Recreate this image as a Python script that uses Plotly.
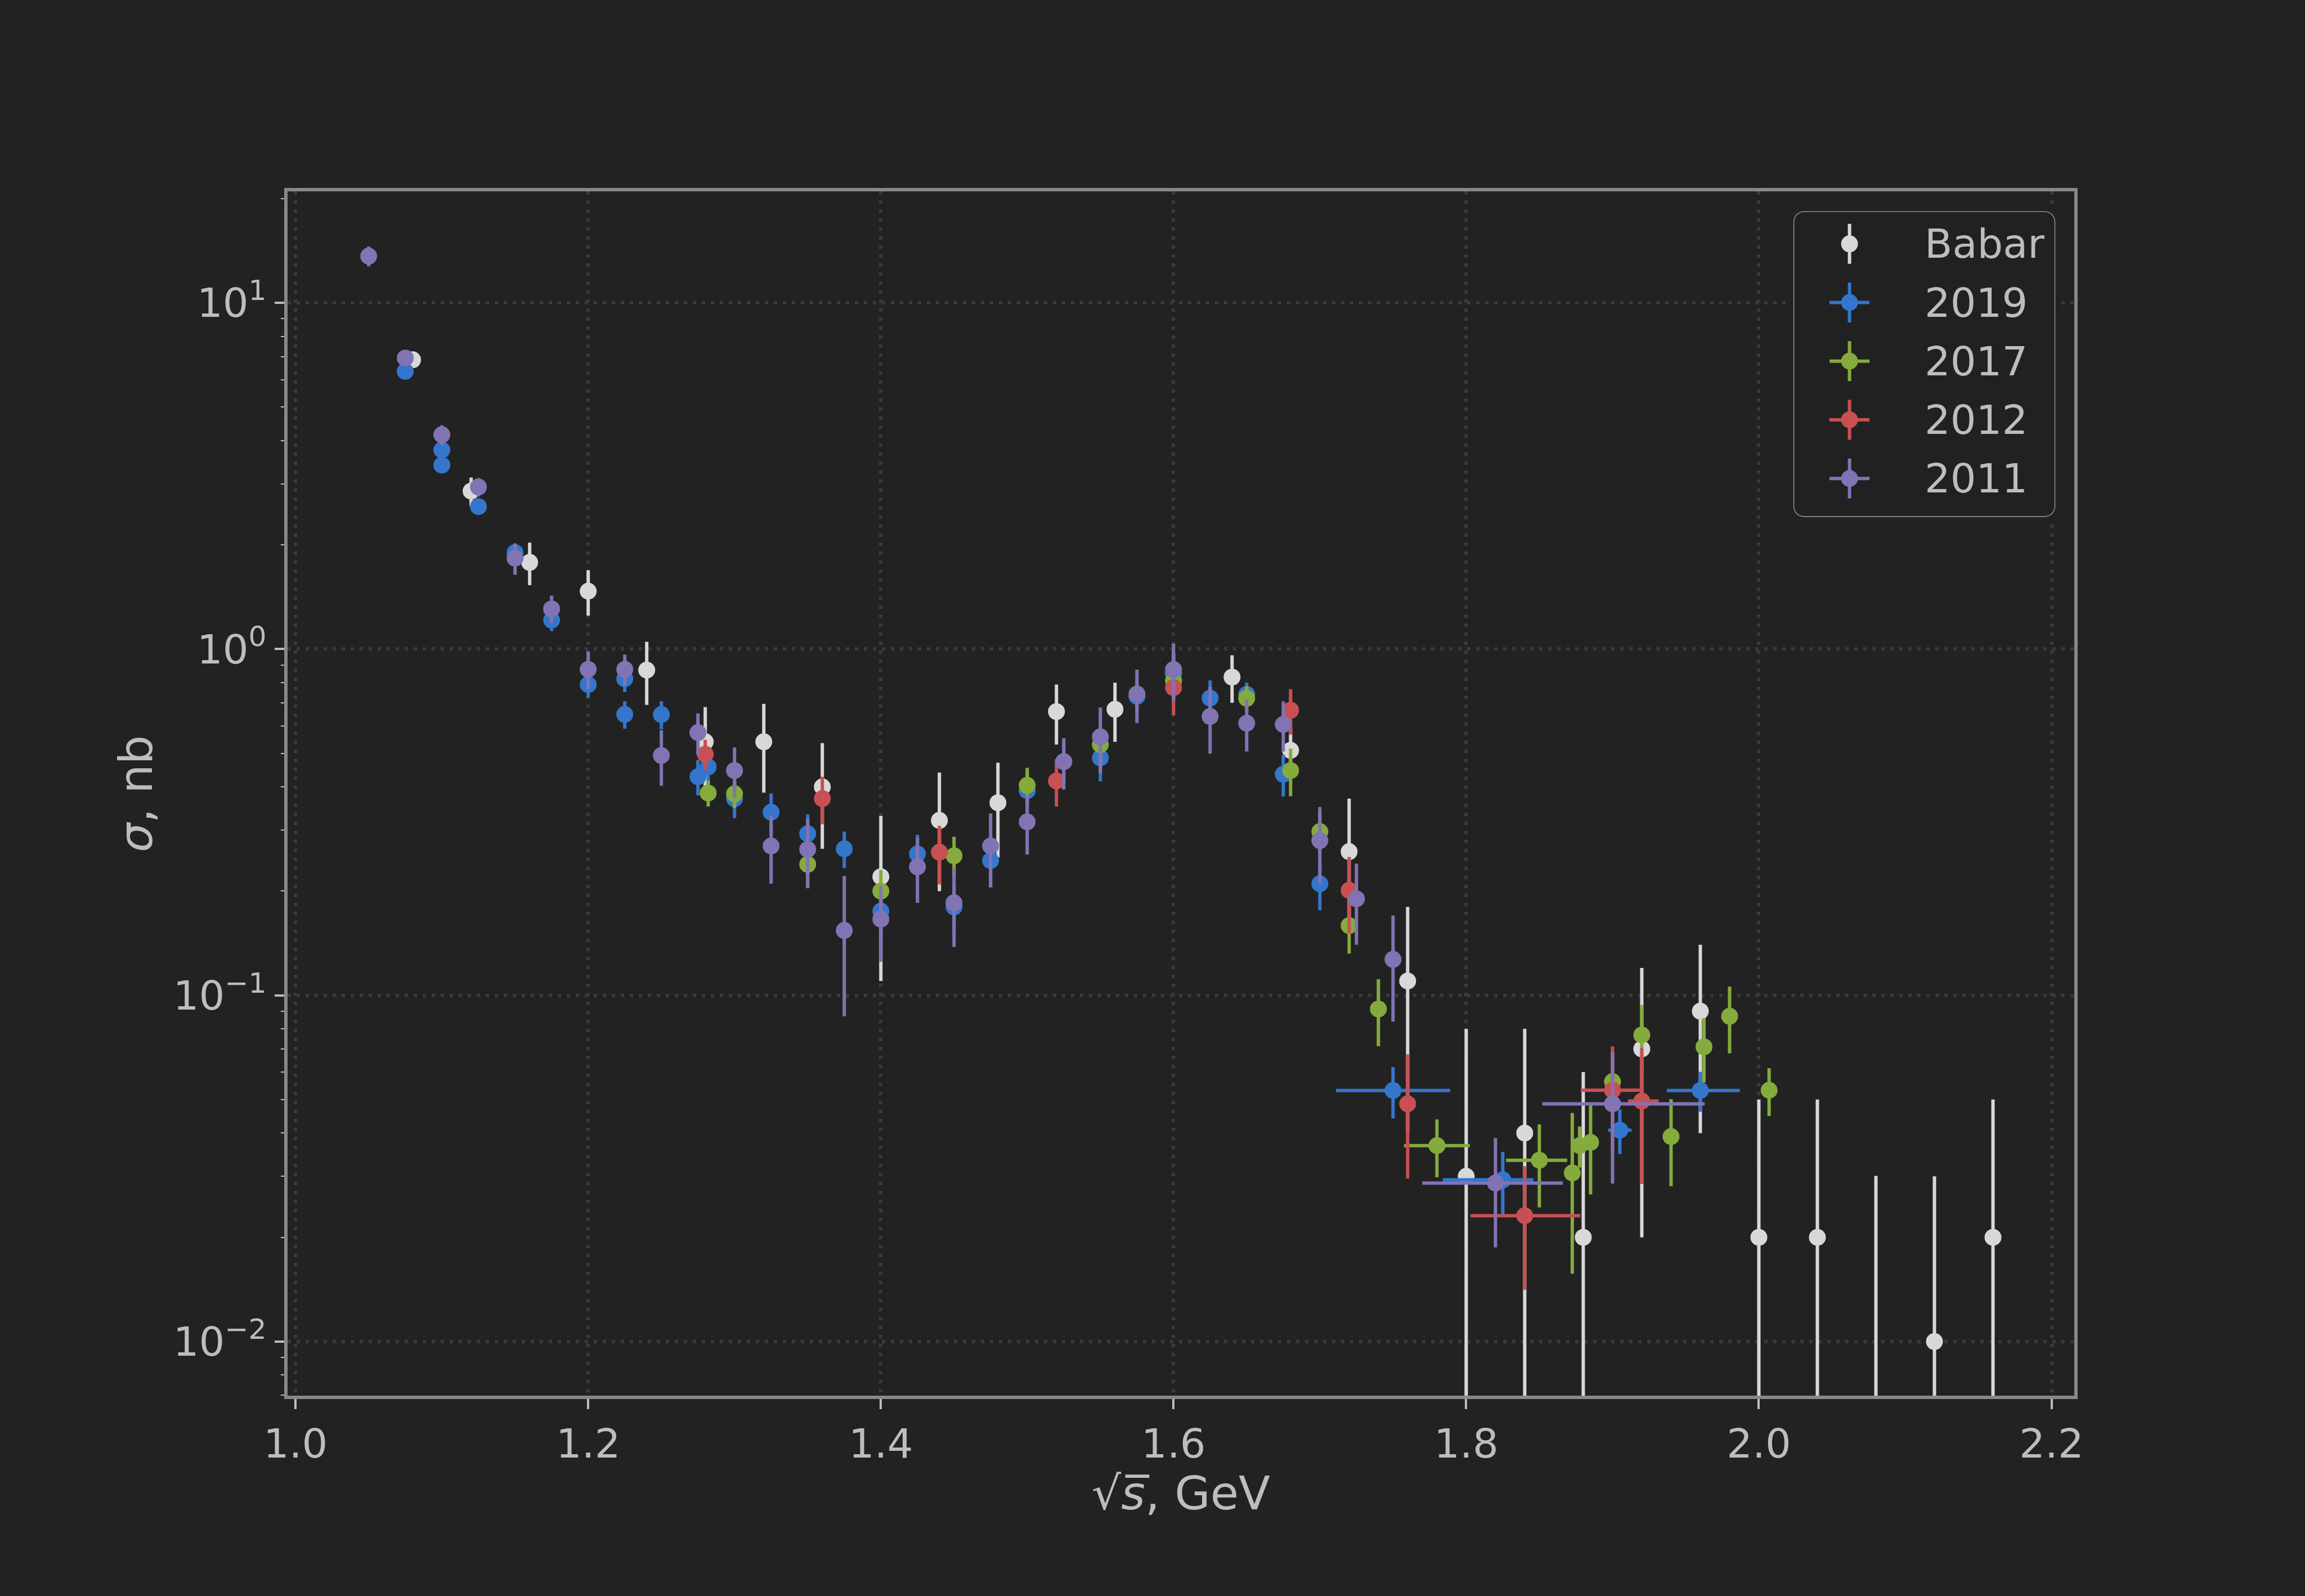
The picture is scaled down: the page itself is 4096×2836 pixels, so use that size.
import numpy as np
import plotly.graph_objects as go

# ---------------- data ----------------
babar_x = [1.08, 1.12, 1.16, 1.20, 1.24, 1.28, 1.32, 1.36, 1.40, 1.44, 1.48, 1.52, 1.56, 1.60,
           1.64, 1.68, 1.72, 1.76, 1.80, 1.84, 1.88, 1.92, 1.96, 2.00, 2.04, 2.08, 2.12, 2.16]
babar_y = [6.85, 2.86, 1.78, 1.47, 0.87, 0.54, 0.54, 0.40, 0.22, 0.32, 0.36, 0.66, 0.67, 0.85,
           0.83, 0.51, 0.26, 0.11, 0.03, 0.04, 0.02, 0.07, 0.09, 0.02, 0.02, 0.0, 0.01, 0.02]
babar_yerr = [0.25, 0.27, 0.25, 0.22, 0.18, 0.14, 0.155, 0.135, 0.11, 0.12, 0.11, 0.13, 0.13, 0.12,
              0.13, 0.08, 0.11, 0.07, 0.05, 0.04, 0.04, 0.05, 0.05, 0.03, 0.03, 0.03, 0.02, 0.03]

s2019_x = [1.075, 1.10, 1.10, 1.125, 1.15, 1.175, 1.20, 1.225, 1.225, 1.25, 1.275, 1.282, 1.30,
           1.325, 1.35, 1.375, 1.40, 1.425, 1.45, 1.475, 1.50, 1.525, 1.55, 1.575, 1.60, 1.625,
           1.65, 1.675, 1.70, 1.75, 1.825, 1.905, 1.96]
s2019_y = [6.34, 3.76, 3.40, 2.58, 1.90, 1.213, 0.790, 0.821, 0.648, 0.647, 0.428, 0.457, 0.370,
           0.338, 0.293, 0.265, 0.175, 0.256, 0.180, 0.245, 0.39, 0.473, 0.485, 0.73, 0.85, 0.722,
           0.74, 0.435, 0.210, 0.0531, 0.0293, 0.0408, 0.0531]
s2019_yerr = [0.2, 0.15, 0.15, 0.1, 0.1, 0.085, 0.066, 0.07, 0.059, 0.06, 0.05, 0.05, 0.045,
              0.045, 0.04, 0.032, 0.025, 0.035, 0.03, 0.04, 0.05, 0.06, 0.07, 0.08, 0.1, 0.09,
              0.06, 0.06, 0.034, 0.009, 0.006, 0.006, 0.007]
s2019_xerr_lo = [0] * 29 + [0.039, 0.041, 0.008, 0.023]
s2019_xerr_hi = [0] * 29 + [0.039, 0.021, 0.008, 0.027]

s2017_x = [1.282, 1.30, 1.35, 1.40, 1.45, 1.50, 1.55, 1.60, 1.65, 1.68, 1.70, 1.72, 1.74, 1.78,
           1.85, 1.8725, 1.8775, 1.885, 1.90, 1.92, 1.94, 1.9625, 1.98, 2.007]
s2017_y = [0.384, 0.382, 0.239, 0.200, 0.253, 0.404, 0.530, 0.81, 0.721, 0.446, 0.297, 0.159,
           0.0913, 0.0368, 0.0334, 0.0307, 0.0368, 0.0376, 0.0563, 0.0768, 0.0391, 0.071, 0.087,
           0.0532]
s2017_yerr = [0.033, 0.035, 0.035, 0.03, 0.034, 0.05, 0.06, 0.09, 0.06, 0.07, 0.04, 0.027, 0.02,
              0.007, 0.009, 0.015, 0.005, 0.011, 0.012, 0.017, 0.011, 0.015, 0.019, 0.0084]
s2017_xerr_lo = [0] * 13 + [0.0225, 0.0227] + [0] * 9
s2017_xerr_hi = [0] * 13 + [0.0225, 0.019] + [0] * 9

s2012_x = [1.28, 1.36, 1.44, 1.52, 1.60, 1.68, 1.72, 1.76, 1.84, 1.90, 1.92]
s2012_y = [0.497, 0.370, 0.259, 0.416, 0.774, 0.666, 0.201, 0.0486, 0.0231, 0.0532, 0.0495]
s2012_yerr = [0.05, 0.058, 0.05, 0.065, 0.13, 0.1, 0.05, 0.019, 0.009, 0.018, 0.021]
s2012_xerr_lo = [0] * 8 + [0.037, 0.0217, 0.0094]
s2012_xerr_hi = [0] * 8 + [0.038, 0.0196, 0.0115]

s2011_x = [1.05, 1.075, 1.10, 1.125, 1.15, 1.175, 1.20, 1.225, 1.25, 1.275, 1.30, 1.325, 1.35,
           1.375, 1.40, 1.425, 1.45, 1.475, 1.50, 1.525, 1.55, 1.575, 1.60, 1.625, 1.65, 1.675,
           1.70, 1.725, 1.75, 1.82, 1.90]
s2011_y = [13.65, 6.93, 4.16, 2.94, 1.83, 1.307, 0.874, 0.874, 0.493, 0.574, 0.446, 0.270, 0.264,
           0.154, 0.166, 0.235, 0.185, 0.270, 0.317, 0.473, 0.558, 0.742, 0.873, 0.639, 0.611,
           0.606, 0.28, 0.190, 0.127, 0.0287, 0.0486]
s2011_yerr = [0.9, 0.3, 0.27, 0.18, 0.19, 0.12, 0.11, 0.09, 0.09, 0.078, 0.074, 0.06, 0.06,
              0.067, 0.041, 0.05, 0.047, 0.065, 0.062, 0.08, 0.12, 0.13, 0.165, 0.14, 0.105,
              0.10, 0.07, 0.05, 0.043, 0.01, 0.02]
s2011_xerr_lo = [0] * 29 + [0.050, 0.048]
s2011_xerr_hi = [0] * 29 + [0.046, 0.063]

legend_labels = ["Babar", "2019", "2017", "2012", "2011"]
x_ticks = [1.0, 1.2, 1.4, 1.6, 1.8, 2.0, 2.2]
y_ticks = [0.01, 0.1, 1, 10]
y_ticktext = ["10<sup>\u22122</sup>", "10<sup>\u22121</sup>", "10<sup>0</sup>", "10<sup>1</sup>"]

# ---------------- style / layout ----------------
W, H = 4096, 2836
PL, PR, PT, PB = 510.6, 3686.5, 340.0, 2480.4   # plot area in px
BG = "#222222"
TXT = "#bdbdbd"
FONT = "DejaVu Sans"
COLORS = {"Babar": "#d8d8d8", "2019": "#3476cc", "2017": "#84ab3c",
          "2012": "#c85052", "2011": "#8273b4"}
MSIZE = 30
ETH = 6

series = [
    ("Babar", babar_x, babar_y, babar_yerr, None, None),
    ("2019", s2019_x, s2019_y, s2019_yerr, s2019_xerr_lo, s2019_xerr_hi),
    ("2017", s2017_x, s2017_y, s2017_yerr, s2017_xerr_lo, s2017_xerr_hi),
    ("2012", s2012_x, s2012_y, s2012_yerr, s2012_xerr_lo, s2012_xerr_hi),
    ("2011", s2011_x, s2011_y, s2011_yerr, s2011_xerr_lo, s2011_xerr_hi),
]

fig = go.Figure()
for name, x, y, ey, exl, exh in series:
    col = COLORS[name]
    yv = np.asarray(y, dtype=float)
    # non-positive values cannot sit on a log axis: push the marker below the axis,
    # keep its error bar
    yplot = np.where(yv > 0, yv, 1e-4)
    kw = dict(
        x=x, y=yplot, mode="markers", name=name, showlegend=False, hoverinfo="skip",
        marker=dict(size=MSIZE, color=col, line=dict(width=0)),
        error_y=dict(type="data", array=ey, visible=True, color=col, thickness=ETH, width=0),
    )
    if exl is not None:
        kw["error_x"] = dict(type="data", symmetric=False, array=exh, arrayminus=exl,
                             visible=True, color=col, thickness=ETH, width=0)
    fig.add_trace(go.Scatter(**kw))

# ---------------- legend (drawn in its own pixel-unit axes) ----------------
LX0, LX1, LY0, LY1 = 3188.0, 3652.0, 376.0, 918.0
PAD = 10.0
R = 18.0
t = np.linspace(0, np.pi / 2, 12)
bx, by = [], []
for cx, cy, a0 in [(LX1 - R, LY0 + R, -np.pi / 2), (LX1 - R, LY1 - R, 0.0),
                   (LX0 + R, LY1 - R, np.pi / 2), (LX0 + R, LY0 + R, np.pi)]:
    bx.extend(cx + R * np.cos(a0 + t))
    by.extend(cy + R * np.sin(a0 + t))
bx.append(bx[0]); by.append(by[0])
fig.add_trace(go.Scatter(x=bx, y=by, mode="lines", fill="toself",
                         fillcolor="rgba(34,34,34,0.8)",
                         line=dict(color="#8c8c8c", width=1.6),
                         xaxis="x2", yaxis="y2", hoverinfo="skip", showlegend=False))

ROW0, ROWSTEP = 433.3, 104.25
MX = 3287.0
TX = 3418.5
for k, name in enumerate(legend_labels):
    col = COLORS[name]
    ry = ROW0 + k * ROWSTEP
    kw = dict(x=[MX], y=[ry], mode="markers", xaxis="x2", yaxis="y2",
              showlegend=False, hoverinfo="skip",
              marker=dict(size=MSIZE, color=col, line=dict(width=0)),
              error_y=dict(type="constant", value=35.5, color=col, thickness=ETH, width=0))
    if name != "Babar":
        kw["error_x"] = dict(type="constant", value=35.6, color=col, thickness=ETH, width=0)
    fig.add_trace(go.Scatter(**kw))
    fig.add_annotation(x=TX, y=ry, xref="x2", yref="y2", text=name, showarrow=False,
                       xanchor="left", yanchor="middle",
                       font=dict(family=FONT, size=72, color=TXT))

# ---------------- axes ----------------
def px2paper_x(px):
    return (px - PL) / (PR - PL)

def px2paper_y(py):
    return (PB - py) / (PB - PT)

minor_vals = [m * 10.0 ** e for e in range(-3, 2) for m in range(2, 10)]

fig.update_layout(
    width=W, height=H,
    margin=dict(l=PL, r=W - PR, t=PT, b=H - PB, pad=0),
    paper_bgcolor=BG, plot_bgcolor=BG,
    font=dict(family=FONT, color=TXT, size=72),
    xaxis=dict(
        range=[0.99456, 2.21555], tickmode="array", tickvals=x_ticks,
        ticktext=[f"{v:.1f}" for v in x_ticks],
        ticks="outside", ticklen=17.5, tickwidth=4, tickcolor=TXT,
        showline=True, linecolor="#888888", linewidth=6, mirror=True,
        showgrid=True, gridcolor="#3a3a3a", gridwidth=5.5, griddash="5.5px,10.5px",
        zeroline=False, tickfont=dict(family=FONT, size=72, color=TXT),
    ),
    yaxis=dict(
        type="log", range=[-2.1563, 1.3222], tickmode="array", tickvals=y_ticks,
        ticktext=y_ticktext,
        ticks="outside", ticklen=17, tickwidth=4, tickcolor=TXT,
        showline=True, linecolor="#888888", linewidth=6, mirror=True,
        showgrid=True, gridcolor="#3a3a3a", gridwidth=5.5, griddash="5.5px,10.5px",
        zeroline=False, tickfont=dict(family=FONT, size=72, color=TXT),
        minor=dict(tickmode="array", tickvals=minor_vals, ticks="outside",
                   ticklen=6.5, tickwidth=2, tickcolor=TXT, showgrid=False),
    ),
    xaxis2=dict(domain=[px2paper_x(LX0 - PAD), px2paper_x(LX1 + PAD)],
                range=[LX0 - PAD, LX1 + PAD], anchor="y2", visible=False, fixedrange=True),
    yaxis2=dict(domain=[px2paper_y(LY1 + PAD), px2paper_y(LY0 - PAD)],
                range=[LY1 + PAD, LY0 - PAD], anchor="x2", visible=False, fixedrange=True),
)

# axis titles
fig.add_annotation(text="\u221a<i>s\u0305</i>, GeV", xref="paper", yref="paper",
                   x=0.5, y=px2paper_y(2654.0), xanchor="center", yanchor="middle",
                   showarrow=False, font=dict(family=FONT, size=82, color=TXT))
fig.add_annotation(text="<i>\u03c3</i>, nb", xref="paper", yref="paper",
                   x=px2paper_x(241.0), y=0.5, xanchor="center", yanchor="middle",
                   textangle=-90, showarrow=False, font=dict(family=FONT, size=82, color=TXT))

fig.write_html("out.html")
